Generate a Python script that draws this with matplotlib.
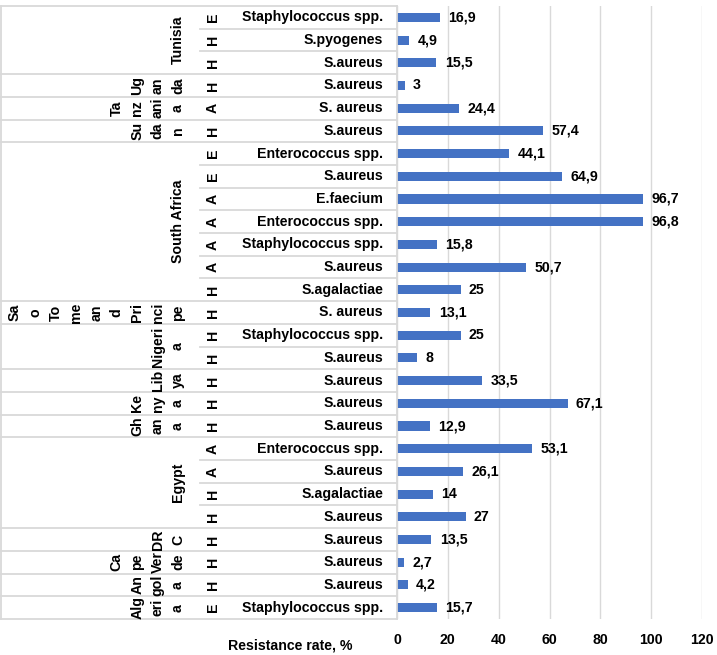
import matplotlib.pyplot as plt

plt.rcParams['font.family'] = ['Liberation Sans', 'DejaVu Sans']
plt.rcParams['font.weight'] = 'bold'

# rows from top to bottom
countries = (["Tunisia"] * 3 + ["Uganda", "Tanzania", "Sudan"] + ["South Africa"] * 7
             + ["Sao Tome and Principe"] + ["Nigeria"] * 2 + ["Libya", "Kenya", "Ghana"]
             + ["Egypt"] * 4 + ["DRC", "Cape Verde", "Angola", "Algeria"])
sources = ["E", "H", "H", "H", "A", "H", "E", "E", "A", "A", "A", "A", "H", "H",
           "H", "H", "H", "H", "H", "A", "A", "H", "H", "H", "H", "H", "E"]
organisms = ["Staphylococcus spp.", "S.pyogenes", "S.aureus", "S.aureus", "S. aureus",
             "S.aureus", "Enterococcus spp.", "S.aureus", "E.faecium", "Enterococcus spp.",
             "Staphylococcus spp.", "S.aureus", "S.agalactiae", "S. aureus",
             "Staphylococcus spp.", "S.aureus", "S.aureus", "S.aureus", "S.aureus",
             "Enterococcus spp.", "S.aureus", "S.agalactiae", "S.aureus", "S.aureus",
             "S.aureus", "S.aureus", "Staphylococcus spp."]
rates = [16.9, 4.9, 15.5, 3, 24.4, 57.4, 44.1, 64.9, 96.7, 96.8, 15.8, 50.7, 25, 13.1,
         25, 8, 33.5, 67.1, 12.9, 53.1, 26.1, 14, 27, 13.5, 2.7, 4.2, 15.7]

# country names as they wrap in the narrow label cells
country_lines = {
    "Tunisia": "Tunisia",
    "Uganda": "Ug\nan\nda",
    "Tanzania": "Ta\nnz\nani\na",
    "Sudan": "Su\nda\nn",
    "South Africa": "South Africa",
    "Sao Tome and Principe": "Sa\no\nTo\nme\nan\nd\nPri\nnci\npe",
    "Nigeria": "Nigeri\na",
    "Libya": "Lib\nya",
    "Kenya": "Ke\nny\na",
    "Ghana": "Gh\nan\na",
    "Egypt": "Egypt",
    "DRC": "DR\nC",
    "Cape Verde": "Ca\npe\nVer\nde",
    "Angola": "An\ngol\na",
    "Algeria": "Alg\neri\na",
}

W, H = 717, 655
X0, XW = 397, 305
fig = plt.figure(figsize=(W / 100, H / 100), dpi=100)
ax = fig.add_axes([X0 / W, 36 / H, XW / W, 613 / H])

fs = 10.2
n = len(rates)
ypos = list(range(n))
bars = ax.barh(ypos, rates, height=0.4, color='#4472C4')
ax.bar_label(bars, labels=[f"{v:g}".replace('.', ',') for v in rates],
             padding=6, fontsize=fs, fontweight='bold')

ax.set_xlim(0, 120)
ax.set_ylim(n - 0.5, -0.5)
ax.set_xticks(range(0, 121, 20))
ax.tick_params(axis='x', length=0, pad=10, labelsize=fs)
ax.set_yticks([])
for s in ax.spines.values():
    s.set_visible(False)
ax.xaxis.grid(True, color='#d9d9d9', lw=1)
ax.set_axisbelow(True)

grid_c = '#d9d9d9'
tr = ax.get_yaxis_transform()


def px(x):
    return (x - X0) / XW


# organism and source labels
for i in range(n):
    ax.text(px(383), i, organisms[i], transform=tr, ha='right', va='center', fontsize=fs)
    ax.text(px(213), i, sources[i], transform=tr, ha='center', va='center',
            rotation=90, fontsize=fs)

# country labels over their row spans
start = 0
for i in range(1, n + 1):
    if i == n or countries[i] != countries[start]:
        mid = (start + i - 1) / 2
        ax.text(px(185), mid, country_lines[countries[start]], transform=tr,
                ha='right', va='center', rotation=90, multialignment='center',
                fontsize=fs, linespacing=1.58)
        start = i

# separator lines of the category axis
for i in range(n + 1):
    full = i == 0 or i == n or countries[i - 1] != countries[i]
    x0 = px(1) if full else px(200)
    ax.plot([x0, 0], [i - 0.5, i - 0.5], transform=tr, clip_on=False, color=grid_c, lw=1.3)
ax.plot([px(1), px(1)], [-0.5, n - 0.5], transform=tr, clip_on=False, color=grid_c, lw=1.3)
ax.plot([0, 0], [-0.5, n - 0.5], transform=tr, clip_on=False, color=grid_c, lw=1.3)

fig.text(290 / W, 1 - 645 / H, "Resistance rate, %", ha='center', va='center',
         fontsize=fs, fontweight='bold')

fig.savefig("out.png", dpi=100)
